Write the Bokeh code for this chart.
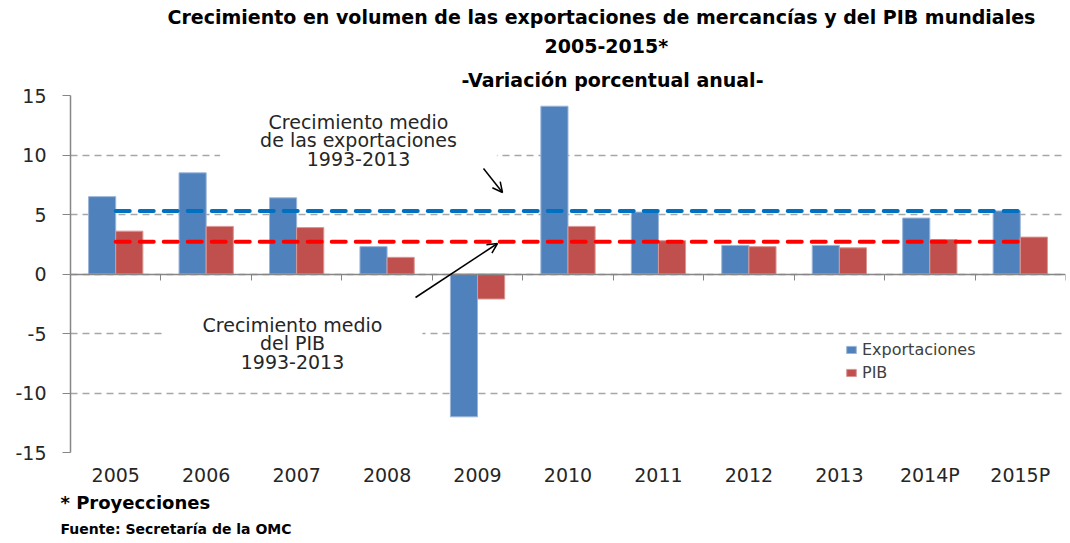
from bokeh.plotting import figure
from bokeh.models import (Range1d, LinearAxis, FixedTicker, Grid, Label, Arrow, OpenHead,
                          Legend, LegendItem, ColumnDataSource, Title)
from bokeh.embed import file_html
from bokeh.resources import INLINE

categories = ["2005", "2006", "2007", "2008", "2009", "2010", "2011", "2012", "2013", "2014P", "2015P"]
exportaciones = [6.5, 8.5, 6.4, 2.3, -12.0, 14.1, 5.2, 2.4, 2.4, 4.7, 5.3]
pib = [3.6, 4.0, 3.9, 1.4, -2.1, 4.0, 2.8, 2.3, 2.2, 2.9, 3.1]
media_export = 5.3
media_pib = 2.7
y_ticks = [-15, -10, -5, 0, 5, 10, 15]

W, H = 1070, 543
L, R, T, B = 70, 1065, 95, 452
n = len(categories)

def dx(px):
    return (px - L) / (R - L) * n

def dy(py):
    return 15 - (py - T) / (B - T) * 30

centers = [i + 0.5 for i in range(n)]
bw = 0.3
src = ColumnDataSource(dict(
    xe=[c - bw / 2 for c in centers], xp=[c + bw / 2 for c in centers],
    exp=exportaciones, pib=pib))

p = figure(width=W, height=H, output_backend="svg", toolbar_location=None,
           x_range=Range1d(0, n), y_range=Range1d(-15, 15),
           x_axis_location=None, y_axis_location=None,
           min_border_left=L, min_border_right=W - R, min_border_top=T, min_border_bottom=H - B)
p.outline_line_color = None
p.background_fill_color = "white"
for g in p.grid:
    g.visible = False

FONT = "DejaVu Sans"
TXT = "#262626"

# grid
yt = FixedTicker(ticks=y_ticks)
p.add_layout(Grid(dimension=1, ticker=yt, grid_line_color="#A6A6A6", grid_line_width=1.5,
                  grid_line_dash="7 5"))

# y axis
ya = LinearAxis(ticker=yt, axis_line_color="#868686", axis_line_width=1.5,
                major_tick_line_color="#868686", major_tick_out=8, major_tick_in=0,
                minor_tick_line_color=None, major_label_standoff=16,
                major_label_overrides={t: str(t) for t in y_ticks},
                major_label_text_font=FONT, major_label_text_font_size="19px",
                major_label_text_color=TXT)
p.add_layout(ya, "left")

# bottom label axis
xa = LinearAxis(ticker=FixedTicker(ticks=centers),
                major_label_overrides={c: lab for c, lab in zip(centers, categories)},
                axis_line_color=None, major_tick_line_color=None, minor_tick_line_color=None,
                major_tick_out=0, major_tick_in=0, minor_tick_out=0, minor_tick_in=0,
                major_label_standoff=11, major_label_text_font=FONT,
                major_label_text_font_size="19px", major_label_text_color=TXT)
p.add_layout(xa, "below")

# zero axis
za = LinearAxis(ticker=FixedTicker(ticks=list(range(n + 1))), fixed_location=0,
                axis_line_color="#868686", axis_line_width=1.5,
                major_tick_line_color="#868686", major_tick_out=6, major_tick_in=0,
                minor_tick_out=0, minor_tick_in=0,
                minor_tick_line_color=None, major_label_text_font_size="0px",
                major_label_standoff=0, major_label_text_alpha=0)
p.add_layout(za, "below")

r1 = p.vbar(x="xe", top="exp", bottom=0, width=bw, source=src, fill_color="#4F81BD",
            line_color="#9BB5D8", line_width=1)
r2 = p.vbar(x="xp", top="pib", bottom=0, width=bw, source=src, fill_color="#C0504D",
            line_color="#D99694", line_width=1)

p.line([centers[0], centers[-1]], [media_export, media_export], line_color="#0070C0",
       line_width=4, line_dash="14 10", line_cap="round")
p.line([centers[0], centers[-1]], [media_pib, media_pib], line_color="#FF0000",
       line_width=4, line_dash="14 10", line_cap="round")

# annotation texts
p.add_layout(Label(x=dx(358), y=dy(140), text="Crecimiento medio\nde las exportaciones\n1993-2013",
                   text_align="center", text_baseline="middle", text_font=FONT,
                   text_font_size="19px", text_color=TXT, text_line_height=0.85,
                   background_fill_color="white", padding=(40, 6)))
p.add_layout(Label(x=dx(292), y=dy(343), text="Crecimiento medio\ndel PIB\n1993-2013",
                   text_align="center", text_baseline="middle", text_font=FONT,
                   text_font_size="19px", text_color=TXT, text_line_height=0.85,
                   background_fill_color="white", padding=(40, 6)))

p.add_layout(Arrow(x_start=dx(483), y_start=dy(168), x_end=dx(502), y_end=dy(192),
                   line_color="black", line_width=1.5,
                   end=OpenHead(size=10, line_color="black", line_width=1.5)))
p.add_layout(Arrow(x_start=dx(415), y_start=dy(297), x_end=dx(497), y_end=dy(243),
                   line_color="black", line_width=1.5,
                   end=OpenHead(size=10, line_color="black", line_width=1.5)))

# titles
TF = "DejaVu Sans"
t3 = Title(text="-Variación porcentual anual-", align="left", offset=391, standoff=9,
           text_font=TF, text_font_style="bold", text_font_size="19px", text_color="black")
t2 = Title(text="2005-2015*", align="left", offset=474, standoff=11,
           text_font=TF, text_font_style="bold", text_font_size="19px", text_color="black")
t1 = Title(text="Crecimiento en volumen de las exportaciones de mercancías y del PIB mundiales",
           align="left", offset=97, standoff=0,
           text_font=TF, text_font_style="bold", text_font_size="19px", text_color="black")
p.add_layout(t3, "above")
p.add_layout(t2, "above")
p.add_layout(t1, "above")

b1 = Title(text="* Proyecciones", align="left", offset=-10, standoff=3,
           text_font=TF, text_font_style="bold", text_font_size="18px", text_color="black")
b2 = Title(text="Fuente: Secretaría de la OMC", align="left", offset=-10, standoff=9,
           text_font=TF, text_font_style="bold", text_font_size="14px", text_color="black")
p.add_layout(b1, "below")
p.add_layout(b2, "below")

legend = Legend(items=[LegendItem(label="Exportaciones", renderers=[r1]),
                       LegendItem(label="PIB", renderers=[r2])],
                location=(775, 70), orientation="vertical",
                glyph_width=12, glyph_height=9, label_standoff=5, spacing=3,
                label_height=20, padding=0, margin=0,
                label_text_font=FONT, label_text_font_size="16px", label_text_color="#404040",
                border_line_color=None, background_fill_alpha=0)
p.add_layout(legend, "center")

open("out.html", "w").write(file_html(p, INLINE))
